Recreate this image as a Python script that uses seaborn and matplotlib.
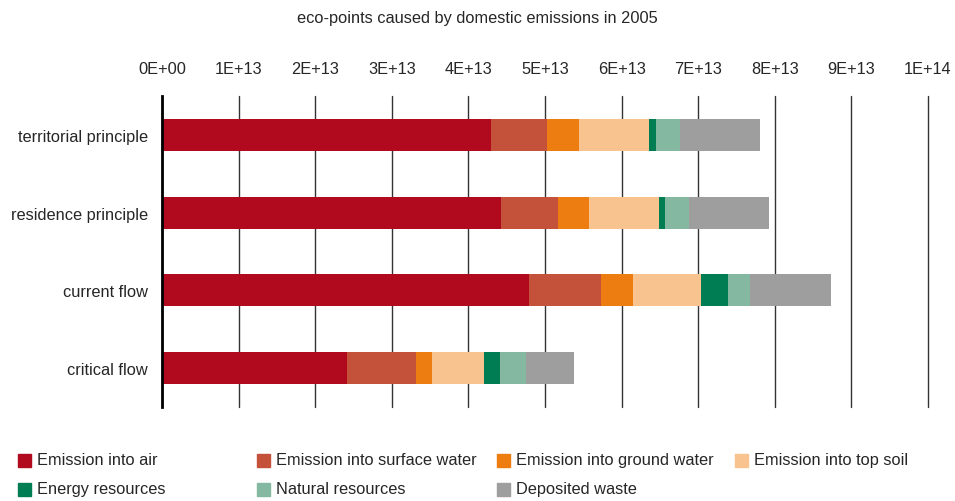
import seaborn as sns
import pandas as pd
import matplotlib.pyplot as plt
import numpy as np

categories = ["territorial principle", "residence principle", "current flow", "critical flow"]

# values in units of 1E+13 eco-points
air = [4.30, 4.43, 4.79, 2.42]
surface_water = [0.73, 0.745, 0.94, 0.90]
ground_water = [0.42, 0.40, 0.42, 0.21]
top_soil = [0.91, 0.91, 0.89, 0.68]
energy = [0.095, 0.08, 0.35, 0.20]
natural = [0.31, 0.31, 0.29, 0.34]
waste = [1.04, 1.05, 1.06, 0.63]

series = ["Emission into air", "Emission into surface water", "Emission into ground water",
          "Emission into top soil", "Energy resources", "Natural resources", "Deposited waste"]
colors = ["#B10A1E", "#C4523A", "#EE7D11", "#F8C38F", "#007D52", "#84B8A0", "#9E9E9E"]

df = pd.DataFrame(np.array([air, surface_water, ground_water, top_soil, energy, natural, waste]).T * 1e13,
                  columns=series)
cum = df.cumsum(axis=1)
cum["category"] = categories

sns.set_style("white")
plt.rcParams['font.family'] = ['Liberation Sans', 'DejaVu Sans']
FS = 11.75

W, H = 955, 502
fig = plt.figure(figsize=(9.55, 5.02), dpi=100)
ax = fig.add_axes([162 / W, 1 - 408 / H, 766 / W, 311 / H])

for name, col in reversed(list(zip(series, colors))):
    sns.barplot(data=cum, x=name, y="category", color=col, width=0.41, ax=ax,
                orient="h", saturation=1, linewidth=0, zorder=3)

ax.set_xlim(0, 1e14)
ax.set_ylim(3.5, -0.5)
ticks = np.arange(0, 1.01e14, 1e13)
ax.set_xticks(ticks)
ax.set_xticklabels(["0E+00"] + [f"{i}E+13" for i in range(1, 10)] + ["1E+14"])
ax.xaxis.tick_top()
ax.tick_params(axis="x", length=0, pad=14.5, labelsize=FS)
ax.tick_params(axis="y", length=0, pad=10, labelsize=FS)
ax.set_xlabel("")
ax.set_ylabel("")
ax.grid(axis="x", color="#333333", lw=1, zorder=0)
for gl in ax.get_xgridlines():
    gl.set_clip_on(False)
ax.set_axisbelow(True)
for s in ["top", "right", "bottom"]:
    ax.spines[s].set_visible(False)
ax.spines["left"].set_color("black")
ax.spines["left"].set_linewidth(2)
ax.spines["left"].set_zorder(5)

fig.text(0.5, 1 - 18 / H, "eco-points caused by domestic emissions in 2005", ha="center", va="center", fontsize=FS)

# legend, laid out row by row
leg_x = [18, 257, 497, 735]
leg_y = [461, 490]
for i, (name, col) in enumerate(zip(series, colors)):
    x = leg_x[i % 4]
    y = leg_y[i // 4]
    fig.patches.append(plt.Rectangle((x / W, (H - y - 6.5) / H), 13 / W, 13 / H, color=col,
                                     transform=fig.transFigure, figure=fig))
    fig.text((x + 19) / W, 1 - y / H, name, ha="left", va="center", fontsize=FS)

fig.savefig("out.png", dpi=100)
